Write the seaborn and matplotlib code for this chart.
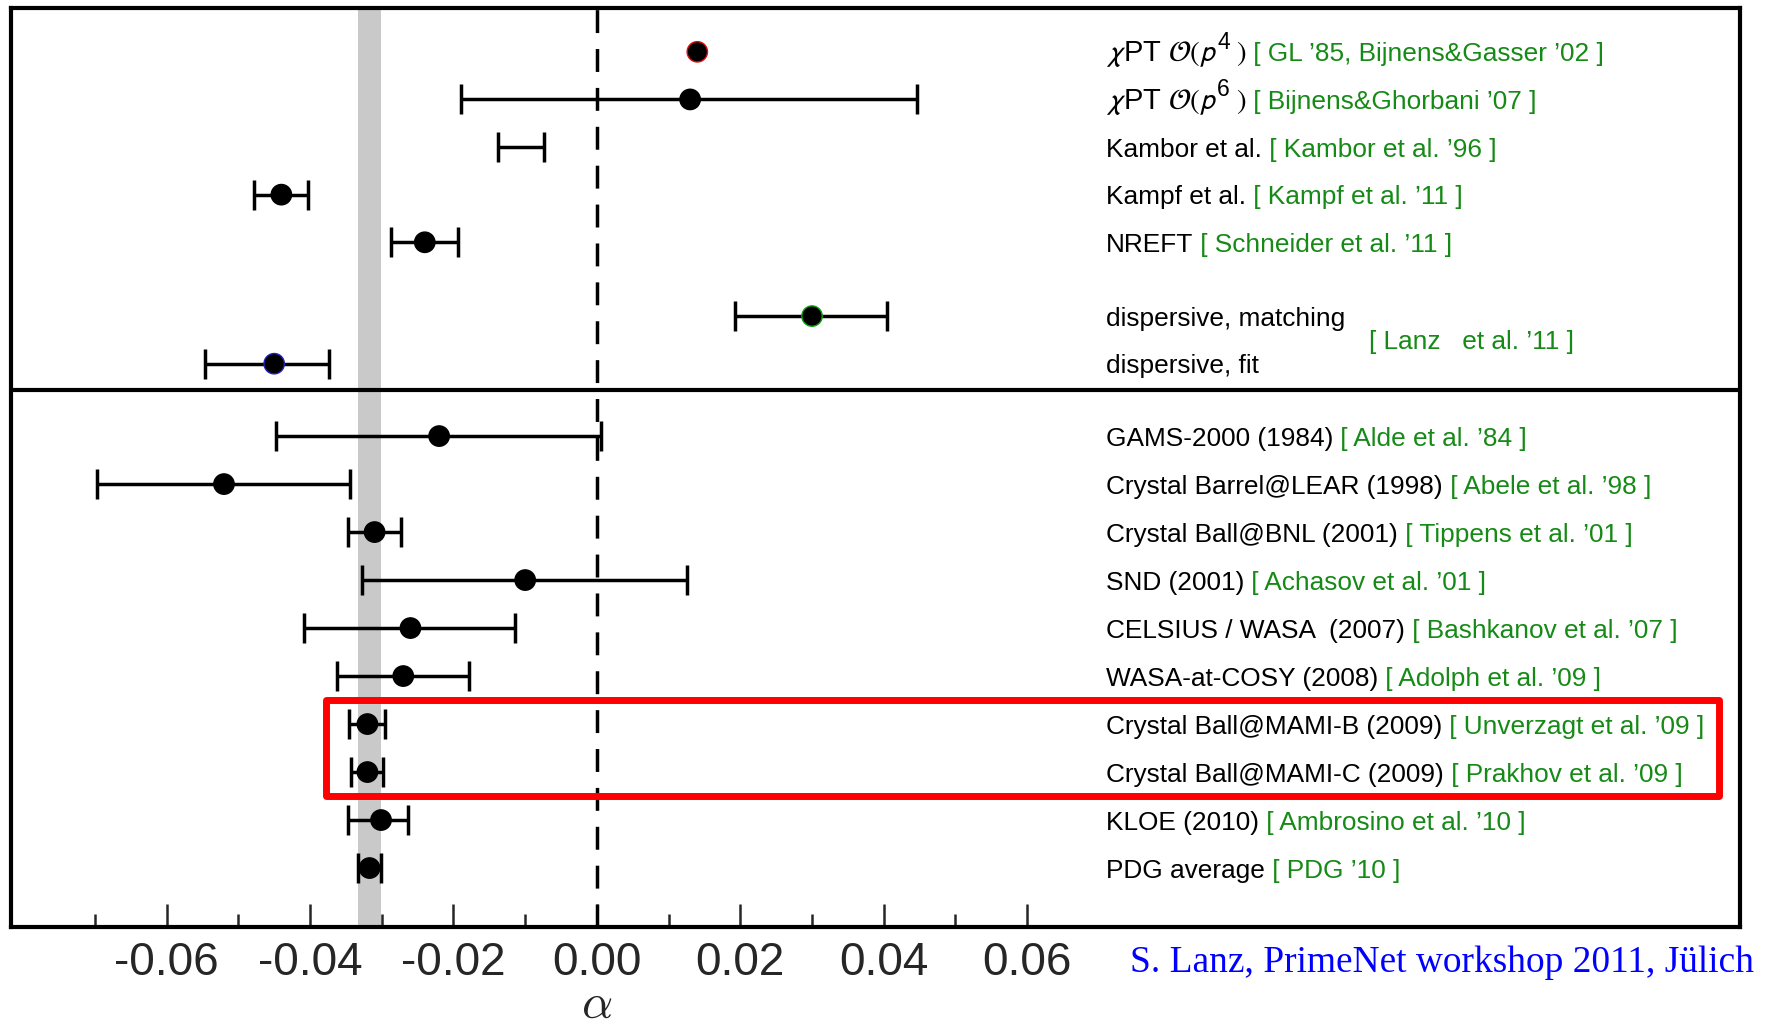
import re
import numpy as np
import pandas as pd
import matplotlib
matplotlib.use("Agg")
import matplotlib.pyplot as plt
from matplotlib.patches import Rectangle
import seaborn as sns

# ---------------------------------------------------------------- values
methods = [
    r"$\chi$PT $\mathcal{O}(p^{4}\;)$",
    r"$\chi$PT $\mathcal{O}(p^{6}\;)$",
    "Kambor et al.",
    "Kampf et al.",
    "NREFT",
    "dispersive, matching",
    "dispersive, fit",
    "GAMS-2000 (1984)",
    "Crystal Barrel@LEAR (1998)",
    "Crystal Ball@BNL (2001)",
    "SND (2001)",
    "CELSIUS / WASA  (2007)",
    "WASA-at-COSY (2008)",
    "Crystal Ball@MAMI-B (2009)",
    "Crystal Ball@MAMI-C (2009)",
    "KLOE (2010)",
    "PDG average",
]
references = [
    "[ GL ’85, Bijnens&Gasser ’02 ]",
    "[ Bijnens&Ghorbani ’07 ]",
    "[ Kambor et al. ’96 ]",
    "[ Kampf et al. ’11 ]",
    "[ Schneider et al. ’11 ]",
    "",
    "",
    "[ Alde et al. ’84 ]",
    "[ Abele et al. ’98 ]",
    "[ Tippens et al. ’01 ]",
    "[ Achasov et al. ’01 ]",
    "[ Bashkanov et al. ’07 ]",
    "[ Adolph et al. ’09 ]",
    "[ Unverzagt et al. ’09 ]",
    "[ Prakhov et al. ’09 ]",
    "[ Ambrosino et al. ’10 ]",
    "[ PDG ’10 ]",
]
dispersive_reference = "[ Lanz   et al. ’11 ]"
group = ["theory"] * 7 + ["experiment"] * 10

alpha = [0.014, 0.013, np.nan, -0.044, -0.024, 0.030, -0.045,
         -0.022, -0.052, -0.031, -0.010, -0.026, -0.027,
         -0.032, -0.032, -0.0301, -0.0317]
alpha_lo = [np.nan, -0.019, -0.0138, -0.0478, -0.0287, 0.0192, -0.0547,
            -0.0447, -0.0697, -0.0347, -0.0327, -0.0408, -0.0362,
            -0.0346, -0.0343, -0.0347, -0.0333]
alpha_hi = [np.nan, 0.0447, -0.0074, -0.0403, -0.0194, 0.0404, -0.0374,
            0.0006, -0.0344, -0.0273, 0.0126, -0.0114, -0.0179,
            -0.0295, -0.0298, -0.0263, -0.0301]
marker_edge = ["#e01010", "black", "black", "black", "black", "#10a010", "#2020c0",
               "black", "black", "black", "black", "black", "black",
               "black", "black", "black", "black"]

# ---------------------------------------------------------------- style
sns.set_style("white")
plt.rcParams["font.family"] = ["Liberation Sans", "DejaVu Sans"]
plt.rcParams["axes.unicode_minus"] = False
plt.rcParams["mathtext.fontset"] = "stixsans"

GREEN = "#168a16"
LABEL_SIZE = 18.9

df = pd.DataFrame({
    "method": methods, "reference": references, "group": group,
    "alpha": alpha, "lo": alpha_lo, "hi": alpha_hi, "edge": marker_edge,
})
# vertical layout: theory block on top, measurements below the divider
row_pos = np.r_[np.arange(5), 5.55, 6.55, 8.07 + 1.008 * np.arange(10)]
df["row"] = row_pos
divider = 7.1

fig = plt.figure(figsize=(17.66, 10.26), dpi=100)
ax = fig.add_axes([11 / 1766, 1 - 927 / 1026, (1740 - 11) / 1766, (927 - 8) / 1026])

# PDG band and zero line
pdg = df.iloc[-1]
ax.axvspan(pdg["lo"], pdg["hi"], color="#c9c9c9", lw=0, zorder=0)
ax.axvline(0, color="black", lw=2.5, ls=(0, (6.6, 4.6)), zorder=1)
ax.axhline(divider, color="black", lw=3, zorder=2)

# error bars
bars = df.dropna(subset=["lo", "hi"]).copy()
bars["center"] = bars["alpha"].fillna((bars["lo"] + bars["hi"]) / 2)
ax.errorbar(bars["center"], bars["row"],
            xerr=[bars["center"] - bars["lo"], bars["hi"] - bars["center"]],
            fmt="none", ecolor="black", elinewidth=2.5, capsize=11,
            capthick=2.5, zorder=3)

# central values
pts = df.dropna(subset=["alpha"])
sns.scatterplot(data=pts, x="alpha", y="row", s=215, color="black",
                edgecolor=pts["edge"].tolist(), linewidth=1.0, zorder=4,
                ax=ax, legend=False)

# highlighted MAMI measurements
i_b = methods.index("Crystal Ball@MAMI-B (2009)")
y0 = (row_pos[i_b - 1] + row_pos[i_b]) / 2
y1 = (row_pos[i_b + 1] + row_pos[i_b + 2]) / 2
ax.add_patch(Rectangle((-0.0378, y0), 0.1565 + 0.0378, y1 - y0, fill=False,
                       edgecolor="#ff0000", lw=5, joinstyle="round", zorder=5))

# axes limits and ticks
ax.set_xlim(-0.0817, 0.1594)
ax.set_ylim(18.38, -0.92)
ax.set_xticks(np.round(np.arange(-0.06, 0.061, 0.02), 2))
ax.set_xticklabels([f"{v:.2f}" for v in np.arange(-0.06, 0.061, 0.02)])
ax.set_xticks(np.round(np.arange(-0.07, 0.051, 0.02), 2), minor=True)
ax.set_yticks([])
ax.tick_params(axis="x", which="major", direction="in", length=16.5, width=1.8,
               labelsize=33, pad=10, bottom=True)
ax.tick_params(axis="x", which="minor", direction="in", length=9.4, width=1.8,
               bottom=True)
ax.set_xlabel("")
ax.set_ylabel("")
for s in ax.spines.values():
    s.set_visible(True)
    s.set_linewidth(3)
    s.set_color("black")


def put_after(prev, text, y, size, color="black", dy=0.0):
    """Place a text right after the previous one on the same baseline."""
    return ax.annotate(text, xy=(1, y), xycoords=(prev, "data"),
                       xytext=(0, dy), textcoords="offset points",
                       fontsize=size, color=color, va="baseline", ha="left",
                       zorder=6)


# row labels with references
text_x = 0.071
sup_pat = re.compile(r"^(.*)\^\{(\w+)\}(.*)\$$")
for _, r in df.iterrows():
    base = r["row"] + 0.2
    m = sup_pat.match(r["method"])
    if m:
        # order-of-p labels: the power is drawn as a large raised digit
        head, power, tail = m.group(1) + "$", m.group(2), "$" + m.group(3) + "$"
        t = ax.text(text_x, base, head, fontsize=21, color="black",
                    va="baseline", ha="left", zorder=6)
        t = put_after(t, power, base, 16.5, dy=9)
        t = put_after(t, tail, base, 21)
    else:
        t = ax.text(text_x, base, r["method"], fontsize=LABEL_SIZE, color="black",
                    va="baseline", ha="left", zorder=6)
    if r["reference"]:
        put_after(t, " " + r["reference"], base, LABEL_SIZE, color=GREEN)
ax.text(0.1076, (row_pos[5] + row_pos[6]) / 2 + 0.2, dispersive_reference,
        fontsize=LABEL_SIZE, color=GREEN, va="baseline", ha="left")

# axis symbol and credit line
fig.text(597 / 1766, 1 - 1018 / 1026, r"$\alpha$", fontsize=35,
         math_fontfamily="cm", ha="center", va="baseline")
fig.text(1130 / 1766, 1 - 963 / 1026, "S. Lanz, PrimeNet workshop 2011, Jülich",
         fontsize=26.9, family="Liberation Serif", color="#0000ff",
         ha="left", va="center")

fig.savefig("out.png", dpi=100)
